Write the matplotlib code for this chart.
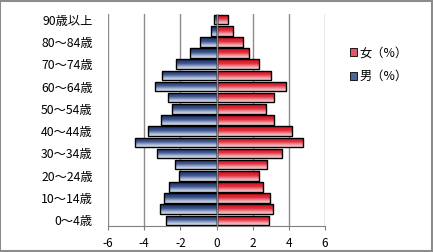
import numpy as np
import matplotlib
matplotlib.use('Agg')
import matplotlib.pyplot as plt
from matplotlib.patches import Patch, Rectangle
from matplotlib.colors import LinearSegmentedColormap

plt.rcParams['font.family'] = ['Noto Sans CJK JP', 'DejaVu Sans']

# age groups, bottom to top
ages = ['0～4歳', '5～9歳', '10～14歳', '15～19歳', '20～24歳', '25～29歳',
        '30～34歳', '35～39歳', '40～44歳', '45～49歳', '50～54歳', '55～59歳',
        '60～64歳', '65～69歳', '70～74歳', '75～79歳', '80～84歳', '85～89歳',
        '90歳以上']
male = [-2.78, -3.15, -2.89, -2.62, -2.10, -2.32, -3.31, -4.49, -3.78, -3.06,
        -2.45, -2.67, -3.39, -3.00, -2.23, -1.47, -0.90, -0.33, -0.13]
female = [2.91, 3.13, 2.96, 2.58, 2.36, 2.80, 3.63, 4.79, 4.18, 3.19,
          2.76, 3.19, 3.87, 3.04, 2.36, 1.77, 1.47, 0.92, 0.64]
xticks = [-6, -4, -2, 0, 2, 4, 6]

# vertical gradients: light at the bottom edge, dark at the top edge
blue_cm = LinearSegmentedColormap.from_list(
    'b', [(0, '#dfe5f0'), (0.25, '#a3b3d2'), (0.55, '#40588f'), (1, '#152b60')])
red_cm = LinearSegmentedColormap.from_list(
    'r', [(0, '#f5d3d7'), (0.25, '#ef98a1'), (0.55, '#e0303e'), (1, '#d20a1a')])

fig = plt.figure(figsize=(4.33, 2.52), dpi=100)
ax = fig.add_axes([0.2494, 0.1032, 0.5012, 0.8412])

y = np.arange(len(ages))
grad = np.linspace(0, 1, 64).reshape(-1, 1)

def gradient_bars(vals, cmap):
    bars = ax.barh(y, vals, height=0.86, facecolor='none', edgecolor='black',
                   linewidth=1.0, zorder=3)
    for b in bars:
        x0, y0 = b.get_x(), b.get_y()
        w, h = b.get_width(), b.get_height()
        im = ax.imshow(grad, cmap=cmap, aspect='auto', origin='lower',
                       extent=[x0, x0 + w, y0, y0 + h], zorder=2,
                       interpolation='bilinear')
        im.set_clip_path(b)
    return bars

gradient_bars(male, blue_cm)
gradient_bars(female, red_cm)

ax.set_xlim(-6, 6)
ax.set_ylim(-0.5, len(ages) - 0.5)
ax.set_xticks(xticks)
ax.set_xticklabels([str(t) for t in xticks], fontsize=8.5)
ax.set_yticks(y[::2])
ax.set_yticklabels(ages[::2], fontsize=8.8)
ax.tick_params(axis='y', length=0, pad=11)
ax.tick_params(axis='x', length=3, color='#808080', pad=5)
for t in xticks:
    ax.axvline(t, color='#8c8c8c', linewidth=1, zorder=1)
ax.axvline(0, color='#8c8c8c', linewidth=1, zorder=4)
for s in ['top', 'right', 'left']:
    ax.spines[s].set_visible(False)
ax.spines['bottom'].set_color('#808080')

handles = [Patch(facecolor='#e25565', edgecolor='black', linewidth=0.6),
           Patch(facecolor='#4f6596', edgecolor='black', linewidth=0.6)]
fig.legend(handles, ['女（%）', '男（%）'], loc='upper left',
           bbox_to_anchor=(0.782, 0.86), frameon=False, fontsize=8.8,
           handlelength=0.6, handleheight=0.6, handletextpad=0.2,
           labelspacing=0.9)

fig.patches.append(Rectangle((0.001, 0.003), 0.996, 0.994, transform=fig.transFigure,
                             fill=False, edgecolor='#8c8c8c', linewidth=1.5))

fig.savefig('out.png', dpi=100)
